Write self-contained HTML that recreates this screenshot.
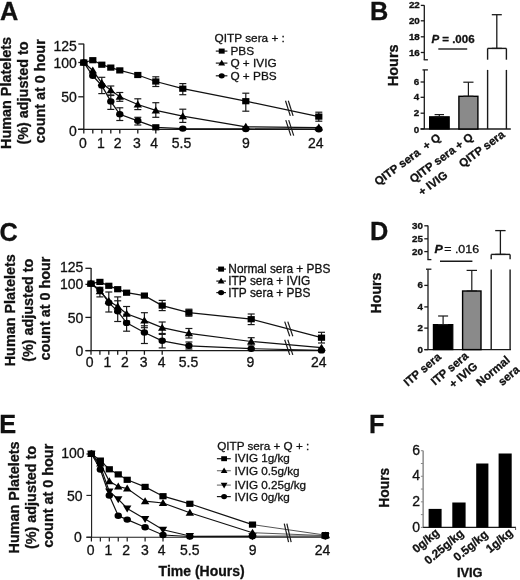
<!DOCTYPE html>
<html><head><meta charset="utf-8"><title>Figure</title>
<style>
html,body{margin:0;padding:0;background:#fff;}
body{width:520px;height:580px;overflow:hidden;}
svg{display:block;font-family:"Liberation Sans", sans-serif;filter:grayscale(1);}
text{stroke:#111;stroke-width:0.3px;}
</style></head>
<body>
<svg width="520" height="580" viewBox="0 0 520 580">
<rect width="520" height="580" fill="#fff"/>
<text x="0.00" y="19.60" font-size="25.3" font-weight="bold" text-anchor="start" fill="#111">A</text>
<text x="0.00" y="0.00" font-size="14.4" font-weight="bold" text-anchor="middle" fill="#111" transform="translate(11.30 93.00) rotate(-90)">Human Platelets</text>
<text x="0.00" y="0.00" font-size="14.4" font-weight="bold" text-anchor="middle" fill="#111" transform="translate(28.30 93.00) rotate(-90)">(%) adjusted to</text>
<text x="0.00" y="0.00" font-size="14.4" font-weight="bold" text-anchor="middle" fill="#111" transform="translate(45.00 91.20) rotate(-90)">count at 0 hour</text>
<line x1="83.80" y1="43.70" x2="83.80" y2="129.90" stroke="#1a1a1a" stroke-width="1.3"/>
<line x1="78.30" y1="44.00" x2="83.80" y2="44.00" stroke="#1a1a1a" stroke-width="1.3"/>
<text x="76.80" y="50.70" font-size="14.0" text-anchor="end" fill="#111">125</text>
<line x1="78.30" y1="62.50" x2="83.80" y2="62.50" stroke="#1a1a1a" stroke-width="1.3"/>
<text x="76.80" y="67.50" font-size="14.0" text-anchor="end" fill="#111">100</text>
<line x1="78.30" y1="96.80" x2="83.80" y2="96.80" stroke="#1a1a1a" stroke-width="1.3"/>
<text x="76.80" y="101.70" font-size="14.0" text-anchor="end" fill="#111">50</text>
<line x1="78.30" y1="129.30" x2="83.80" y2="129.30" stroke="#1a1a1a" stroke-width="1.3"/>
<text x="76.80" y="135.60" font-size="14.0" text-anchor="end" fill="#111">0</text>
<line x1="78.00" y1="129.30" x2="320.00" y2="129.30" stroke="#1a1a1a" stroke-width="1.3"/>
<line x1="83.80" y1="129.30" x2="83.80" y2="133.60" stroke="#1a1a1a" stroke-width="1.3"/>
<line x1="92.80" y1="129.30" x2="92.80" y2="133.60" stroke="#1a1a1a" stroke-width="1.3"/>
<line x1="101.80" y1="129.30" x2="101.80" y2="133.60" stroke="#1a1a1a" stroke-width="1.3"/>
<line x1="110.80" y1="129.30" x2="110.80" y2="133.60" stroke="#1a1a1a" stroke-width="1.3"/>
<line x1="119.80" y1="129.30" x2="119.80" y2="133.60" stroke="#1a1a1a" stroke-width="1.3"/>
<line x1="137.80" y1="129.30" x2="137.80" y2="133.60" stroke="#1a1a1a" stroke-width="1.3"/>
<line x1="155.80" y1="129.30" x2="155.80" y2="133.60" stroke="#1a1a1a" stroke-width="1.3"/>
<text x="82.80" y="147.50" font-size="14.0" text-anchor="middle" fill="#111">0</text>
<text x="100.80" y="147.50" font-size="14.0" text-anchor="middle" fill="#111">1</text>
<text x="117.60" y="147.50" font-size="14.0" text-anchor="middle" fill="#111">2</text>
<text x="137.00" y="147.50" font-size="14.0" text-anchor="middle" fill="#111">3</text>
<text x="154.20" y="147.50" font-size="14.0" text-anchor="middle" fill="#111">4</text>
<text x="181.50" y="147.50" font-size="14.0" text-anchor="middle" fill="#111">5.5</text>
<text x="246.00" y="147.50" font-size="14.0" text-anchor="middle" fill="#111">9</text>
<text x="315.70" y="147.50" font-size="14.0" text-anchor="middle" fill="#111">24</text>
<polyline points="83.80,62.50 92.80,60.20 101.80,64.70 110.80,67.60 119.80,70.40 137.80,75.00 155.80,81.50 182.80,88.70 245.80,101.20 318.80,116.60" fill="none" stroke="#111" stroke-width="1.25"/>
<polyline points="83.80,62.50 92.80,70.50 101.80,83.00 110.80,90.30 119.80,96.80 137.80,104.50 155.80,110.40 182.80,116.20 245.80,126.80 318.80,127.60" fill="none" stroke="#111" stroke-width="1.25"/>
<polyline points="83.80,62.50 92.80,75.80 101.80,85.60 110.80,101.40 119.80,114.30 137.80,120.80 155.80,127.30 182.80,128.60 245.80,129.00 318.80,129.20" fill="none" stroke="#111" stroke-width="1.3"/>
<line x1="155.80" y1="76.80" x2="155.80" y2="86.50" stroke="#1a1a1a" stroke-width="1.2"/>
<line x1="152.30" y1="76.80" x2="159.30" y2="76.80" stroke="#1a1a1a" stroke-width="1.2"/>
<line x1="152.30" y1="86.50" x2="159.30" y2="86.50" stroke="#1a1a1a" stroke-width="1.2"/>
<line x1="182.80" y1="83.60" x2="182.80" y2="94.70" stroke="#1a1a1a" stroke-width="1.2"/>
<line x1="179.30" y1="83.60" x2="186.30" y2="83.60" stroke="#1a1a1a" stroke-width="1.2"/>
<line x1="179.30" y1="94.70" x2="186.30" y2="94.70" stroke="#1a1a1a" stroke-width="1.2"/>
<line x1="245.80" y1="93.20" x2="245.80" y2="111.20" stroke="#1a1a1a" stroke-width="1.2"/>
<line x1="242.30" y1="93.20" x2="249.30" y2="93.20" stroke="#1a1a1a" stroke-width="1.2"/>
<line x1="242.30" y1="111.20" x2="249.30" y2="111.20" stroke="#1a1a1a" stroke-width="1.2"/>
<line x1="318.80" y1="112.20" x2="318.80" y2="121.20" stroke="#1a1a1a" stroke-width="1.2"/>
<line x1="315.30" y1="112.20" x2="322.30" y2="112.20" stroke="#1a1a1a" stroke-width="1.2"/>
<line x1="315.30" y1="121.20" x2="322.30" y2="121.20" stroke="#1a1a1a" stroke-width="1.2"/>
<line x1="110.80" y1="86.00" x2="110.80" y2="95.50" stroke="#1a1a1a" stroke-width="1.2"/>
<line x1="107.30" y1="86.00" x2="114.30" y2="86.00" stroke="#1a1a1a" stroke-width="1.2"/>
<line x1="107.30" y1="95.50" x2="114.30" y2="95.50" stroke="#1a1a1a" stroke-width="1.2"/>
<line x1="119.80" y1="92.50" x2="119.80" y2="101.30" stroke="#1a1a1a" stroke-width="1.2"/>
<line x1="116.30" y1="92.50" x2="123.30" y2="92.50" stroke="#1a1a1a" stroke-width="1.2"/>
<line x1="116.30" y1="101.30" x2="123.30" y2="101.30" stroke="#1a1a1a" stroke-width="1.2"/>
<line x1="137.80" y1="98.80" x2="137.80" y2="109.60" stroke="#1a1a1a" stroke-width="1.2"/>
<line x1="134.30" y1="98.80" x2="141.30" y2="98.80" stroke="#1a1a1a" stroke-width="1.2"/>
<line x1="134.30" y1="109.60" x2="141.30" y2="109.60" stroke="#1a1a1a" stroke-width="1.2"/>
<line x1="155.80" y1="102.70" x2="155.80" y2="117.30" stroke="#1a1a1a" stroke-width="1.2"/>
<line x1="152.30" y1="102.70" x2="159.30" y2="102.70" stroke="#1a1a1a" stroke-width="1.2"/>
<line x1="152.30" y1="117.30" x2="159.30" y2="117.30" stroke="#1a1a1a" stroke-width="1.2"/>
<line x1="182.80" y1="109.20" x2="182.80" y2="122.40" stroke="#1a1a1a" stroke-width="1.2"/>
<line x1="179.30" y1="109.20" x2="186.30" y2="109.20" stroke="#1a1a1a" stroke-width="1.2"/>
<line x1="179.30" y1="122.40" x2="186.30" y2="122.40" stroke="#1a1a1a" stroke-width="1.2"/>
<line x1="101.80" y1="77.30" x2="101.80" y2="93.60" stroke="#1a1a1a" stroke-width="1.2"/>
<line x1="98.30" y1="77.30" x2="105.30" y2="77.30" stroke="#1a1a1a" stroke-width="1.2"/>
<line x1="98.30" y1="93.60" x2="105.30" y2="93.60" stroke="#1a1a1a" stroke-width="1.2"/>
<line x1="110.80" y1="95.00" x2="110.80" y2="109.40" stroke="#1a1a1a" stroke-width="1.2"/>
<line x1="107.30" y1="95.00" x2="114.30" y2="95.00" stroke="#1a1a1a" stroke-width="1.2"/>
<line x1="107.30" y1="109.40" x2="114.30" y2="109.40" stroke="#1a1a1a" stroke-width="1.2"/>
<line x1="119.80" y1="107.80" x2="119.80" y2="120.50" stroke="#1a1a1a" stroke-width="1.2"/>
<line x1="116.30" y1="107.80" x2="123.30" y2="107.80" stroke="#1a1a1a" stroke-width="1.2"/>
<line x1="116.30" y1="120.50" x2="123.30" y2="120.50" stroke="#1a1a1a" stroke-width="1.2"/>
<line x1="137.80" y1="117.30" x2="137.80" y2="125.00" stroke="#1a1a1a" stroke-width="1.2"/>
<line x1="134.30" y1="117.30" x2="141.30" y2="117.30" stroke="#1a1a1a" stroke-width="1.2"/>
<line x1="134.30" y1="125.00" x2="141.30" y2="125.00" stroke="#1a1a1a" stroke-width="1.2"/>
<polygon points="79.60,65.50 88.00,65.50 83.80,58.50" fill="#000"/>
<polygon points="88.60,73.50 97.00,73.50 92.80,66.50" fill="#000"/>
<polygon points="97.60,86.00 106.00,86.00 101.80,79.00" fill="#000"/>
<polygon points="106.60,93.30 115.00,93.30 110.80,86.30" fill="#000"/>
<polygon points="115.60,99.80 124.00,99.80 119.80,92.80" fill="#000"/>
<polygon points="133.60,107.50 142.00,107.50 137.80,100.50" fill="#000"/>
<polygon points="151.60,113.40 160.00,113.40 155.80,106.40" fill="#000"/>
<polygon points="178.60,119.20 187.00,119.20 182.80,112.20" fill="#000"/>
<polygon points="241.60,129.80 250.00,129.80 245.80,122.80" fill="#000"/>
<polygon points="314.60,130.60 323.00,130.60 318.80,123.60" fill="#000"/>
<ellipse cx="83.80" cy="62.50" rx="3.70" ry="3.20" fill="#000"/>
<ellipse cx="92.80" cy="75.80" rx="3.70" ry="3.20" fill="#000"/>
<ellipse cx="101.80" cy="85.60" rx="3.70" ry="3.20" fill="#000"/>
<ellipse cx="110.80" cy="101.40" rx="3.70" ry="3.20" fill="#000"/>
<ellipse cx="119.80" cy="114.30" rx="3.70" ry="3.20" fill="#000"/>
<ellipse cx="137.80" cy="120.80" rx="3.70" ry="3.20" fill="#000"/>
<rect x="152.20" y="124.20" width="7.20" height="6.20" fill="#000"/>
<ellipse cx="182.80" cy="128.60" rx="3.70" ry="3.20" fill="#000"/>
<ellipse cx="245.80" cy="129.00" rx="3.70" ry="3.20" fill="#000"/>
<ellipse cx="318.80" cy="129.20" rx="3.70" ry="3.20" fill="#000"/>
<rect x="80.20" y="59.40" width="7.20" height="6.20" fill="#000"/>
<rect x="89.20" y="57.10" width="7.20" height="6.20" fill="#000"/>
<rect x="98.20" y="61.60" width="7.20" height="6.20" fill="#000"/>
<rect x="107.20" y="64.50" width="7.20" height="6.20" fill="#000"/>
<rect x="116.20" y="67.30" width="7.20" height="6.20" fill="#000"/>
<rect x="134.20" y="71.90" width="7.20" height="6.20" fill="#000"/>
<rect x="152.20" y="78.40" width="7.20" height="6.20" fill="#000"/>
<rect x="179.20" y="85.60" width="7.20" height="6.20" fill="#000"/>
<rect x="242.20" y="98.10" width="7.20" height="6.20" fill="#000"/>
<rect x="315.20" y="113.50" width="7.20" height="6.20" fill="#000"/>
<line x1="285.50" y1="100.80" x2="290.30" y2="115.90" stroke="#1a1a1a" stroke-width="1.2"/>
<line x1="288.30" y1="100.80" x2="293.10" y2="115.90" stroke="#1a1a1a" stroke-width="1.2"/>
<line x1="285.80" y1="120.10" x2="290.80" y2="135.60" stroke="#1a1a1a" stroke-width="1.2"/>
<line x1="288.70" y1="120.10" x2="293.70" y2="135.60" stroke="#1a1a1a" stroke-width="1.2"/>
<text x="214.60" y="41.90" font-size="11.8" text-anchor="start" fill="#111">QITP sera + :</text>
<line x1="215.80" y1="51.10" x2="227.40" y2="51.10" stroke="#1a1a1a" stroke-width="1.2"/>
<rect x="218.75" y="48.56" width="5.90" height="5.08" fill="#000"/>
<text x="230.40" y="55.00" font-size="11.8" text-anchor="start" fill="#111">PBS</text>
<line x1="215.80" y1="63.10" x2="227.40" y2="63.10" stroke="#1a1a1a" stroke-width="1.2"/>
<polygon points="218.26,65.47 225.14,65.47 221.70,59.73" fill="#000"/>
<text x="230.40" y="67.00" font-size="11.8" text-anchor="start" fill="#111">Q + IVIG</text>
<line x1="215.80" y1="75.80" x2="227.40" y2="75.80" stroke="#1a1a1a" stroke-width="1.2"/>
<ellipse cx="221.70" cy="75.80" rx="3.03" ry="2.62" fill="#000"/>
<text x="230.40" y="79.70" font-size="11.8" text-anchor="start" fill="#111">Q + PBS</text>
<text x="370.00" y="19.60" font-size="25.3" font-weight="bold" text-anchor="start" fill="#111">B</text>
<text x="0.00" y="0.00" font-size="14.5" font-weight="bold" text-anchor="middle" fill="#111" transform="translate(398.00 65.30) rotate(-90)">Hours</text>
<line x1="424.30" y1="5.20" x2="424.30" y2="59.80" stroke="#1a1a1a" stroke-width="1.3"/>
<line x1="423.70" y1="59.80" x2="427.90" y2="59.80" stroke="#1a1a1a" stroke-width="1.3"/>
<line x1="420.80" y1="5.40" x2="424.30" y2="5.40" stroke="#1a1a1a" stroke-width="1.3"/>
<text x="0.00" y="0.00" font-size="8.6" font-weight="bold" text-anchor="end" fill="#111" transform="translate(419.80 8.40) scale(1.14 1)">22</text>
<line x1="420.80" y1="20.80" x2="424.30" y2="20.80" stroke="#1a1a1a" stroke-width="1.3"/>
<text x="0.00" y="0.00" font-size="8.6" font-weight="bold" text-anchor="end" fill="#111" transform="translate(419.80 23.80) scale(1.14 1)">20</text>
<line x1="420.80" y1="36.80" x2="424.30" y2="36.80" stroke="#1a1a1a" stroke-width="1.3"/>
<text x="0.00" y="0.00" font-size="8.6" font-weight="bold" text-anchor="end" fill="#111" transform="translate(419.80 39.80) scale(1.14 1)">18</text>
<line x1="420.80" y1="52.50" x2="424.30" y2="52.50" stroke="#1a1a1a" stroke-width="1.3"/>
<text x="0.00" y="0.00" font-size="8.6" font-weight="bold" text-anchor="end" fill="#111" transform="translate(419.80 55.50) scale(1.14 1)">16</text>
<line x1="424.30" y1="69.90" x2="424.30" y2="129.00" stroke="#1a1a1a" stroke-width="1.3"/>
<line x1="422.50" y1="69.90" x2="427.90" y2="69.90" stroke="#1a1a1a" stroke-width="1.3"/>
<line x1="420.60" y1="82.00" x2="424.30" y2="82.00" stroke="#1a1a1a" stroke-width="1.3"/>
<text x="0.00" y="0.00" font-size="8.6" font-weight="bold" text-anchor="end" fill="#111" transform="translate(419.20 85.00) scale(1.14 1)">6</text>
<line x1="420.60" y1="97.30" x2="424.30" y2="97.30" stroke="#1a1a1a" stroke-width="1.3"/>
<text x="0.00" y="0.00" font-size="8.6" font-weight="bold" text-anchor="end" fill="#111" transform="translate(419.20 100.30) scale(1.14 1)">4</text>
<line x1="420.60" y1="113.20" x2="424.30" y2="113.20" stroke="#1a1a1a" stroke-width="1.3"/>
<text x="0.00" y="0.00" font-size="8.6" font-weight="bold" text-anchor="end" fill="#111" transform="translate(419.20 116.20) scale(1.14 1)">2</text>
<line x1="420.60" y1="128.90" x2="424.30" y2="128.90" stroke="#1a1a1a" stroke-width="1.3"/>
<text x="0.00" y="0.00" font-size="8.6" font-weight="bold" text-anchor="end" fill="#111" transform="translate(419.20 132.50) scale(1.14 1)">0</text>
<line x1="420.60" y1="129.00" x2="510.80" y2="129.00" stroke="#1a1a1a" stroke-width="1.3"/>
<rect x="429.60" y="116.80" width="19.60" height="12.20" fill="#000" stroke="#000" stroke-width="1.2"/>
<line x1="439.30" y1="114.60" x2="439.30" y2="116.80" stroke="#1a1a1a" stroke-width="1.2"/>
<line x1="434.60" y1="114.60" x2="444.00" y2="114.60" stroke="#1a1a1a" stroke-width="1.2"/>
<line x1="434.60" y1="116.80" x2="444.00" y2="116.80" stroke="#1a1a1a" stroke-width="1.2"/>
<rect x="458.90" y="96.30" width="19.00" height="32.70" fill="#8a8a8a" stroke="#000" stroke-width="1.4"/>
<line x1="468.40" y1="82.20" x2="468.40" y2="96.30" stroke="#1a1a1a" stroke-width="1.2"/>
<line x1="463.30" y1="82.20" x2="473.50" y2="82.20" stroke="#1a1a1a" stroke-width="1.2"/>
<line x1="463.30" y1="96.30" x2="473.50" y2="96.30" stroke="#1a1a1a" stroke-width="1.2"/>
<line x1="487.60" y1="69.90" x2="487.60" y2="129.00" stroke="#1a1a1a" stroke-width="1.4"/>
<line x1="506.40" y1="69.90" x2="506.40" y2="129.00" stroke="#1a1a1a" stroke-width="1.4"/>
<line x1="487.60" y1="48.40" x2="487.60" y2="59.70" stroke="#1a1a1a" stroke-width="1.4"/>
<line x1="506.40" y1="48.40" x2="506.40" y2="59.70" stroke="#1a1a1a" stroke-width="1.4"/>
<line x1="487.60" y1="48.40" x2="506.40" y2="48.40" stroke="#1a1a1a" stroke-width="1.4"/>
<line x1="496.80" y1="14.70" x2="496.80" y2="48.40" stroke="#1a1a1a" stroke-width="1.3"/>
<line x1="491.80" y1="14.70" x2="501.80" y2="14.70" stroke="#1a1a1a" stroke-width="1.3"/>
<line x1="491.80" y1="48.40" x2="501.80" y2="48.40" stroke="#1a1a1a" stroke-width="1.3"/>
<text x="431.40" y="42.90" font-size="11.5" font-weight="bold" text-anchor="start" fill="#111"><tspan font-style="italic">P</tspan> = .006</text>
<line x1="438.30" y1="49.00" x2="467.20" y2="49.00" stroke="#1a1a1a" stroke-width="1.4"/>
<text x="0.00" y="0.00" font-size="11.5" font-weight="bold" text-anchor="start" fill="#111" transform="translate(378.10 186.00) rotate(-36.5)">QITP sera&#160; + Q</text>
<text x="0.00" y="0.00" font-size="11.5" font-weight="bold" text-anchor="start" fill="#111" transform="translate(413.30 183.60) rotate(-36.5)">QITP sera + Q</text>
<text x="0.00" y="0.00" font-size="11.5" font-weight="bold" text-anchor="start" fill="#111" transform="translate(421.90 196.20) rotate(-36.5)">+ IVIG</text>
<text x="0.00" y="0.00" font-size="11.5" font-weight="bold" text-anchor="start" fill="#111" transform="translate(462.60 167.90) rotate(-36.5)">QITP sera</text>
<text x="-0.40" y="240.80" font-size="25.3" font-weight="bold" text-anchor="start" fill="#111">C</text>
<text x="0.00" y="0.00" font-size="14.4" font-weight="bold" text-anchor="middle" fill="#111" transform="translate(15.00 310.30) rotate(-90)">Human Platelets</text>
<text x="0.00" y="0.00" font-size="14.4" font-weight="bold" text-anchor="middle" fill="#111" transform="translate(32.90 310.30) rotate(-90)">(%) adjusted to</text>
<text x="0.00" y="0.00" font-size="14.4" font-weight="bold" text-anchor="middle" fill="#111" transform="translate(49.60 308.50) rotate(-90)">count at 0 hour</text>
<line x1="91.10" y1="268.00" x2="91.10" y2="351.00" stroke="#1a1a1a" stroke-width="1.3"/>
<line x1="85.40" y1="268.30" x2="91.10" y2="268.30" stroke="#1a1a1a" stroke-width="1.3"/>
<text x="83.30" y="271.70" font-size="14.0" text-anchor="end" fill="#111">125</text>
<line x1="85.40" y1="284.40" x2="91.10" y2="284.40" stroke="#1a1a1a" stroke-width="1.3"/>
<text x="83.30" y="289.00" font-size="14.0" text-anchor="end" fill="#111">100</text>
<line x1="85.40" y1="317.40" x2="91.10" y2="317.40" stroke="#1a1a1a" stroke-width="1.3"/>
<text x="83.30" y="323.00" font-size="14.0" text-anchor="end" fill="#111">50</text>
<line x1="85.40" y1="350.60" x2="91.10" y2="350.60" stroke="#1a1a1a" stroke-width="1.3"/>
<text x="83.30" y="356.20" font-size="14.0" text-anchor="end" fill="#111">0</text>
<line x1="85.60" y1="350.60" x2="325.00" y2="350.60" stroke="#1a1a1a" stroke-width="1.3"/>
<line x1="91.00" y1="350.60" x2="91.00" y2="354.80" stroke="#1a1a1a" stroke-width="1.3"/>
<line x1="99.90" y1="350.60" x2="99.90" y2="354.80" stroke="#1a1a1a" stroke-width="1.3"/>
<line x1="108.80" y1="350.60" x2="108.80" y2="354.80" stroke="#1a1a1a" stroke-width="1.3"/>
<line x1="117.70" y1="350.60" x2="117.70" y2="354.80" stroke="#1a1a1a" stroke-width="1.3"/>
<line x1="126.60" y1="350.60" x2="126.60" y2="354.80" stroke="#1a1a1a" stroke-width="1.3"/>
<line x1="144.40" y1="350.60" x2="144.40" y2="354.80" stroke="#1a1a1a" stroke-width="1.3"/>
<line x1="162.20" y1="350.60" x2="162.20" y2="354.80" stroke="#1a1a1a" stroke-width="1.3"/>
<text x="89.60" y="366.60" font-size="14.0" text-anchor="middle" fill="#111">0</text>
<text x="107.30" y="366.60" font-size="14.0" text-anchor="middle" fill="#111">1</text>
<text x="125.00" y="366.60" font-size="14.0" text-anchor="middle" fill="#111">2</text>
<text x="143.60" y="366.60" font-size="14.0" text-anchor="middle" fill="#111">3</text>
<text x="161.60" y="366.60" font-size="14.0" text-anchor="middle" fill="#111">4</text>
<text x="188.50" y="366.60" font-size="14.0" text-anchor="middle" fill="#111">5.5</text>
<text x="250.40" y="366.60" font-size="14.0" text-anchor="middle" fill="#111">9</text>
<text x="318.80" y="366.60" font-size="14.0" text-anchor="middle" fill="#111">24</text>
<polyline points="91.00,283.60 99.90,281.90 108.80,285.80 117.70,289.20 126.60,292.70 144.40,295.60 162.20,305.60 188.90,312.70 251.20,319.20 321.50,337.70" fill="none" stroke="#111" stroke-width="1.25"/>
<polyline points="91.00,283.60 99.90,291.20 108.80,301.00 117.70,306.50 126.60,313.80 144.40,320.40 162.20,327.70 188.90,333.30 251.20,341.50 321.50,347.70" fill="none" stroke="#111" stroke-width="1.25"/>
<polyline points="91.00,283.60 99.90,290.00 108.80,302.70 117.70,311.30 126.60,322.90 144.40,332.50 162.20,340.80 188.90,345.80 251.20,348.70 321.50,350.40" fill="none" stroke="#111" stroke-width="1.2"/>
<line x1="162.20" y1="300.40" x2="162.20" y2="310.60" stroke="#1a1a1a" stroke-width="1.2"/>
<line x1="158.70" y1="300.40" x2="165.70" y2="300.40" stroke="#1a1a1a" stroke-width="1.2"/>
<line x1="158.70" y1="310.60" x2="165.70" y2="310.60" stroke="#1a1a1a" stroke-width="1.2"/>
<line x1="188.90" y1="309.20" x2="188.90" y2="316.20" stroke="#1a1a1a" stroke-width="1.2"/>
<line x1="185.40" y1="309.20" x2="192.40" y2="309.20" stroke="#1a1a1a" stroke-width="1.2"/>
<line x1="185.40" y1="316.20" x2="192.40" y2="316.20" stroke="#1a1a1a" stroke-width="1.2"/>
<line x1="251.20" y1="314.00" x2="251.20" y2="324.60" stroke="#1a1a1a" stroke-width="1.2"/>
<line x1="247.70" y1="314.00" x2="254.70" y2="314.00" stroke="#1a1a1a" stroke-width="1.2"/>
<line x1="247.70" y1="324.60" x2="254.70" y2="324.60" stroke="#1a1a1a" stroke-width="1.2"/>
<line x1="321.50" y1="332.30" x2="321.50" y2="343.00" stroke="#1a1a1a" stroke-width="1.2"/>
<line x1="318.00" y1="332.30" x2="325.00" y2="332.30" stroke="#1a1a1a" stroke-width="1.2"/>
<line x1="318.00" y1="343.00" x2="325.00" y2="343.00" stroke="#1a1a1a" stroke-width="1.2"/>
<line x1="99.90" y1="287.30" x2="99.90" y2="296.90" stroke="#1a1a1a" stroke-width="1.2"/>
<line x1="96.40" y1="287.30" x2="103.40" y2="287.30" stroke="#1a1a1a" stroke-width="1.2"/>
<line x1="96.40" y1="296.90" x2="103.40" y2="296.90" stroke="#1a1a1a" stroke-width="1.2"/>
<line x1="117.70" y1="296.90" x2="117.70" y2="312.00" stroke="#1a1a1a" stroke-width="1.2"/>
<line x1="114.20" y1="296.90" x2="121.20" y2="296.90" stroke="#1a1a1a" stroke-width="1.2"/>
<line x1="114.20" y1="312.00" x2="121.20" y2="312.00" stroke="#1a1a1a" stroke-width="1.2"/>
<line x1="126.60" y1="306.50" x2="126.60" y2="321.00" stroke="#1a1a1a" stroke-width="1.2"/>
<line x1="123.10" y1="306.50" x2="130.10" y2="306.50" stroke="#1a1a1a" stroke-width="1.2"/>
<line x1="123.10" y1="321.00" x2="130.10" y2="321.00" stroke="#1a1a1a" stroke-width="1.2"/>
<line x1="144.40" y1="312.70" x2="144.40" y2="327.70" stroke="#1a1a1a" stroke-width="1.2"/>
<line x1="140.90" y1="312.70" x2="147.90" y2="312.70" stroke="#1a1a1a" stroke-width="1.2"/>
<line x1="140.90" y1="327.70" x2="147.90" y2="327.70" stroke="#1a1a1a" stroke-width="1.2"/>
<line x1="162.20" y1="322.00" x2="162.20" y2="333.50" stroke="#1a1a1a" stroke-width="1.2"/>
<line x1="158.70" y1="322.00" x2="165.70" y2="322.00" stroke="#1a1a1a" stroke-width="1.2"/>
<line x1="158.70" y1="333.50" x2="165.70" y2="333.50" stroke="#1a1a1a" stroke-width="1.2"/>
<line x1="188.90" y1="328.50" x2="188.90" y2="338.00" stroke="#1a1a1a" stroke-width="1.2"/>
<line x1="185.40" y1="328.50" x2="192.40" y2="328.50" stroke="#1a1a1a" stroke-width="1.2"/>
<line x1="185.40" y1="338.00" x2="192.40" y2="338.00" stroke="#1a1a1a" stroke-width="1.2"/>
<line x1="251.20" y1="337.70" x2="251.20" y2="345.00" stroke="#1a1a1a" stroke-width="1.2"/>
<line x1="247.70" y1="337.70" x2="254.70" y2="337.70" stroke="#1a1a1a" stroke-width="1.2"/>
<line x1="247.70" y1="345.00" x2="254.70" y2="345.00" stroke="#1a1a1a" stroke-width="1.2"/>
<line x1="108.80" y1="292.00" x2="108.80" y2="312.00" stroke="#1a1a1a" stroke-width="1.2"/>
<line x1="105.30" y1="292.00" x2="112.30" y2="292.00" stroke="#1a1a1a" stroke-width="1.2"/>
<line x1="105.30" y1="312.00" x2="112.30" y2="312.00" stroke="#1a1a1a" stroke-width="1.2"/>
<line x1="117.70" y1="300.80" x2="117.70" y2="321.50" stroke="#1a1a1a" stroke-width="1.2"/>
<line x1="114.20" y1="300.80" x2="121.20" y2="300.80" stroke="#1a1a1a" stroke-width="1.2"/>
<line x1="114.20" y1="321.50" x2="121.20" y2="321.50" stroke="#1a1a1a" stroke-width="1.2"/>
<line x1="126.60" y1="314.20" x2="126.60" y2="331.20" stroke="#1a1a1a" stroke-width="1.2"/>
<line x1="123.10" y1="314.20" x2="130.10" y2="314.20" stroke="#1a1a1a" stroke-width="1.2"/>
<line x1="123.10" y1="331.20" x2="130.10" y2="331.20" stroke="#1a1a1a" stroke-width="1.2"/>
<line x1="144.40" y1="325.80" x2="144.40" y2="343.50" stroke="#1a1a1a" stroke-width="1.2"/>
<line x1="140.90" y1="325.80" x2="147.90" y2="325.80" stroke="#1a1a1a" stroke-width="1.2"/>
<line x1="140.90" y1="343.50" x2="147.90" y2="343.50" stroke="#1a1a1a" stroke-width="1.2"/>
<line x1="162.20" y1="334.40" x2="162.20" y2="347.90" stroke="#1a1a1a" stroke-width="1.2"/>
<line x1="158.70" y1="334.40" x2="165.70" y2="334.40" stroke="#1a1a1a" stroke-width="1.2"/>
<line x1="158.70" y1="347.90" x2="165.70" y2="347.90" stroke="#1a1a1a" stroke-width="1.2"/>
<line x1="188.90" y1="342.00" x2="188.90" y2="349.00" stroke="#1a1a1a" stroke-width="1.2"/>
<line x1="185.40" y1="342.00" x2="192.40" y2="342.00" stroke="#1a1a1a" stroke-width="1.2"/>
<line x1="185.40" y1="349.00" x2="192.40" y2="349.00" stroke="#1a1a1a" stroke-width="1.2"/>
<polygon points="86.80,286.60 95.20,286.60 91.00,279.60" fill="#000"/>
<polygon points="95.70,294.20 104.10,294.20 99.90,287.20" fill="#000"/>
<polygon points="104.60,304.00 113.00,304.00 108.80,297.00" fill="#000"/>
<polygon points="113.50,309.50 121.90,309.50 117.70,302.50" fill="#000"/>
<polygon points="122.40,316.80 130.80,316.80 126.60,309.80" fill="#000"/>
<polygon points="140.20,323.40 148.60,323.40 144.40,316.40" fill="#000"/>
<polygon points="158.00,330.70 166.40,330.70 162.20,323.70" fill="#000"/>
<polygon points="184.70,336.30 193.10,336.30 188.90,329.30" fill="#000"/>
<polygon points="247.00,344.50 255.40,344.50 251.20,337.50" fill="#000"/>
<polygon points="317.30,350.70 325.70,350.70 321.50,343.70" fill="#000"/>
<ellipse cx="91.00" cy="283.60" rx="3.70" ry="3.20" fill="#000"/>
<ellipse cx="99.90" cy="290.00" rx="3.70" ry="3.20" fill="#000"/>
<ellipse cx="108.80" cy="302.70" rx="3.70" ry="3.20" fill="#000"/>
<ellipse cx="117.70" cy="311.30" rx="3.70" ry="3.20" fill="#000"/>
<ellipse cx="126.60" cy="322.90" rx="3.70" ry="3.20" fill="#000"/>
<ellipse cx="144.40" cy="332.50" rx="3.70" ry="3.20" fill="#000"/>
<ellipse cx="162.20" cy="340.80" rx="3.70" ry="3.20" fill="#000"/>
<ellipse cx="188.90" cy="345.80" rx="3.70" ry="3.20" fill="#000"/>
<ellipse cx="251.20" cy="348.70" rx="3.70" ry="3.20" fill="#000"/>
<ellipse cx="321.50" cy="350.40" rx="3.70" ry="3.20" fill="#000"/>
<rect x="87.40" y="280.50" width="7.20" height="6.20" fill="#000"/>
<rect x="96.30" y="278.80" width="7.20" height="6.20" fill="#000"/>
<rect x="105.20" y="282.70" width="7.20" height="6.20" fill="#000"/>
<rect x="114.10" y="286.10" width="7.20" height="6.20" fill="#000"/>
<rect x="123.00" y="289.60" width="7.20" height="6.20" fill="#000"/>
<rect x="140.80" y="292.50" width="7.20" height="6.20" fill="#000"/>
<rect x="158.60" y="302.50" width="7.20" height="6.20" fill="#000"/>
<rect x="185.30" y="309.60" width="7.20" height="6.20" fill="#000"/>
<rect x="247.60" y="316.10" width="7.20" height="6.20" fill="#000"/>
<rect x="317.90" y="334.60" width="7.20" height="6.20" fill="#000"/>
<line x1="284.70" y1="321.60" x2="289.70" y2="336.30" stroke="#1a1a1a" stroke-width="1.2"/>
<line x1="287.80" y1="321.60" x2="292.80" y2="336.30" stroke="#1a1a1a" stroke-width="1.2"/>
<line x1="284.70" y1="339.80" x2="289.70" y2="354.90" stroke="#1a1a1a" stroke-width="1.2"/>
<line x1="287.80" y1="339.80" x2="292.80" y2="354.90" stroke="#1a1a1a" stroke-width="1.2"/>
<line x1="216.30" y1="269.10" x2="226.00" y2="269.10" stroke="#1a1a1a" stroke-width="1.2"/>
<rect x="218.15" y="266.56" width="5.90" height="5.08" fill="#000"/>
<text x="228.30" y="273.00" font-size="11.9" text-anchor="start" fill="#111">Normal sera + PBS</text>
<line x1="216.30" y1="281.10" x2="226.00" y2="281.10" stroke="#1a1a1a" stroke-width="1.2"/>
<polygon points="217.66,283.47 224.54,283.47 221.10,277.73" fill="#000"/>
<text x="228.30" y="285.00" font-size="11.9" text-anchor="start" fill="#111">ITP sera + IVIG</text>
<line x1="216.30" y1="292.60" x2="226.00" y2="292.60" stroke="#1a1a1a" stroke-width="1.2"/>
<ellipse cx="221.10" cy="292.60" rx="3.03" ry="2.62" fill="#000"/>
<text x="228.30" y="296.50" font-size="11.9" text-anchor="start" fill="#111">ITP sera + PBS</text>
<text x="370.00" y="240.40" font-size="25.3" font-weight="bold" text-anchor="start" fill="#111">D</text>
<text x="0.00" y="0.00" font-size="14.2" font-weight="bold" text-anchor="middle" fill="#111" transform="translate(380.50 293.00) rotate(-90)">Hours</text>
<line x1="428.00" y1="225.60" x2="428.00" y2="259.60" stroke="#1a1a1a" stroke-width="1.3"/>
<line x1="427.40" y1="259.60" x2="431.40" y2="259.60" stroke="#1a1a1a" stroke-width="1.3"/>
<line x1="424.30" y1="225.80" x2="428.00" y2="225.80" stroke="#1a1a1a" stroke-width="1.3"/>
<text x="0.00" y="0.00" font-size="8.6" font-weight="bold" text-anchor="end" fill="#111" transform="translate(423.00 228.80) scale(1.14 1)">30</text>
<line x1="424.30" y1="238.80" x2="428.00" y2="238.80" stroke="#1a1a1a" stroke-width="1.3"/>
<text x="0.00" y="0.00" font-size="8.6" font-weight="bold" text-anchor="end" fill="#111" transform="translate(423.00 241.80) scale(1.14 1)">25</text>
<line x1="424.30" y1="251.60" x2="428.00" y2="251.60" stroke="#1a1a1a" stroke-width="1.3"/>
<text x="0.00" y="0.00" font-size="8.6" font-weight="bold" text-anchor="end" fill="#111" transform="translate(423.00 254.60) scale(1.14 1)">20</text>
<line x1="428.00" y1="269.20" x2="428.00" y2="349.60" stroke="#1a1a1a" stroke-width="1.3"/>
<line x1="426.00" y1="269.20" x2="431.40" y2="269.20" stroke="#1a1a1a" stroke-width="1.3"/>
<line x1="424.30" y1="285.40" x2="428.00" y2="285.40" stroke="#1a1a1a" stroke-width="1.3"/>
<text x="0.00" y="0.00" font-size="8.6" font-weight="bold" text-anchor="end" fill="#111" transform="translate(423.00 288.40) scale(1.14 1)">6</text>
<line x1="424.30" y1="306.90" x2="428.00" y2="306.90" stroke="#1a1a1a" stroke-width="1.3"/>
<text x="0.00" y="0.00" font-size="8.6" font-weight="bold" text-anchor="end" fill="#111" transform="translate(423.00 309.90) scale(1.14 1)">4</text>
<line x1="424.30" y1="328.10" x2="428.00" y2="328.10" stroke="#1a1a1a" stroke-width="1.3"/>
<text x="0.00" y="0.00" font-size="8.6" font-weight="bold" text-anchor="end" fill="#111" transform="translate(423.00 331.10) scale(1.14 1)">2</text>
<line x1="424.30" y1="349.60" x2="428.00" y2="349.60" stroke="#1a1a1a" stroke-width="1.3"/>
<text x="0.00" y="0.00" font-size="8.6" font-weight="bold" text-anchor="end" fill="#111" transform="translate(423.00 353.20) scale(1.14 1)">0</text>
<line x1="424.50" y1="349.60" x2="511.00" y2="349.60" stroke="#1a1a1a" stroke-width="1.3"/>
<rect x="433.40" y="324.60" width="19.40" height="25.00" fill="#000" stroke="#000" stroke-width="1.2"/>
<line x1="443.10" y1="316.00" x2="443.10" y2="324.60" stroke="#1a1a1a" stroke-width="1.2"/>
<line x1="438.10" y1="316.00" x2="448.10" y2="316.00" stroke="#1a1a1a" stroke-width="1.2"/>
<line x1="438.10" y1="324.60" x2="448.10" y2="324.60" stroke="#1a1a1a" stroke-width="1.2"/>
<rect x="462.60" y="291.00" width="18.40" height="58.60" fill="#8a8a8a" stroke="#000" stroke-width="1.4"/>
<line x1="471.80" y1="270.40" x2="471.80" y2="291.00" stroke="#1a1a1a" stroke-width="1.2"/>
<line x1="466.60" y1="270.40" x2="477.00" y2="270.40" stroke="#1a1a1a" stroke-width="1.2"/>
<line x1="466.60" y1="291.00" x2="477.00" y2="291.00" stroke="#1a1a1a" stroke-width="1.2"/>
<line x1="491.20" y1="269.50" x2="491.20" y2="349.60" stroke="#1a1a1a" stroke-width="1.4"/>
<line x1="510.10" y1="269.50" x2="510.10" y2="349.60" stroke="#1a1a1a" stroke-width="1.4"/>
<line x1="491.20" y1="254.40" x2="491.20" y2="259.20" stroke="#1a1a1a" stroke-width="1.4"/>
<line x1="510.10" y1="254.40" x2="510.10" y2="259.20" stroke="#1a1a1a" stroke-width="1.4"/>
<line x1="491.20" y1="254.40" x2="510.10" y2="254.40" stroke="#1a1a1a" stroke-width="1.4"/>
<line x1="500.40" y1="230.60" x2="500.40" y2="254.40" stroke="#1a1a1a" stroke-width="1.3"/>
<line x1="495.20" y1="230.60" x2="505.60" y2="230.60" stroke="#1a1a1a" stroke-width="1.3"/>
<line x1="495.20" y1="254.40" x2="505.60" y2="254.40" stroke="#1a1a1a" stroke-width="1.3"/>
<text x="0.00" y="0.00" font-size="11.0" text-anchor="start" fill="#111" transform="translate(434.60 253.40) scale(1.13 1)"><tspan font-weight="bold" font-style="italic">P</tspan><tspan dx="1.2">= .016</tspan></text>
<line x1="440.00" y1="261.20" x2="472.40" y2="261.20" stroke="#1a1a1a" stroke-width="1.4"/>
<text x="0.00" y="0.00" font-size="11.5" font-weight="bold" text-anchor="start" fill="#111" transform="translate(407.70 386.80) rotate(-40)">ITP sera</text>
<text x="0.00" y="0.00" font-size="11.5" font-weight="bold" text-anchor="start" fill="#111" transform="translate(435.00 385.80) rotate(-40)">ITP sera</text>
<text x="0.00" y="0.00" font-size="11.5" font-weight="bold" text-anchor="start" fill="#111" transform="translate(453.20 388.70) rotate(-40)">+ IVIG</text>
<text x="0.00" y="0.00" font-size="11.5" font-weight="bold" text-anchor="start" fill="#111" transform="translate(480.30 386.70) rotate(-40)">Normal</text>
<text x="0.00" y="0.00" font-size="11.5" font-weight="bold" text-anchor="start" fill="#111" transform="translate(502.20 386.20) rotate(-40)">sera</text>
<text x="-0.80" y="432.90" font-size="25.3" font-weight="bold" text-anchor="start" fill="#111">E</text>
<text x="0.00" y="0.00" font-size="14.4" font-weight="bold" text-anchor="middle" fill="#111" transform="translate(19.00 497.50) rotate(-90)">Human Platelets</text>
<text x="0.00" y="0.00" font-size="14.4" font-weight="bold" text-anchor="middle" fill="#111" transform="translate(35.60 497.50) rotate(-90)">(%) adjusted to</text>
<text x="0.00" y="0.00" font-size="14.4" font-weight="bold" text-anchor="middle" fill="#111" transform="translate(53.00 495.70) rotate(-90)">count at 0 hour</text>
<line x1="91.60" y1="454.00" x2="91.60" y2="537.50" stroke="#1a1a1a" stroke-width="1.1"/>
<line x1="86.40" y1="454.00" x2="91.60" y2="454.00" stroke="#1a1a1a" stroke-width="1.1"/>
<text x="84.60" y="457.80" font-size="14.0" text-anchor="end" fill="#111">100</text>
<line x1="86.40" y1="495.40" x2="91.60" y2="495.40" stroke="#1a1a1a" stroke-width="1.1"/>
<text x="82.60" y="501.30" font-size="14.0" text-anchor="end" fill="#111">50</text>
<line x1="86.40" y1="537.20" x2="91.60" y2="537.20" stroke="#1a1a1a" stroke-width="1.1"/>
<text x="81.90" y="542.30" font-size="14.0" text-anchor="end" fill="#111">0</text>
<line x1="86.40" y1="537.20" x2="330.00" y2="537.20" stroke="#1a1a1a" stroke-width="1.1"/>
<line x1="91.40" y1="537.40" x2="91.40" y2="541.40" stroke="#1a1a1a" stroke-width="1.2"/>
<line x1="100.35" y1="537.40" x2="100.35" y2="541.40" stroke="#1a1a1a" stroke-width="1.2"/>
<line x1="109.30" y1="537.40" x2="109.30" y2="541.40" stroke="#1a1a1a" stroke-width="1.2"/>
<line x1="118.25" y1="537.40" x2="118.25" y2="541.40" stroke="#1a1a1a" stroke-width="1.2"/>
<line x1="127.20" y1="537.40" x2="127.20" y2="541.40" stroke="#1a1a1a" stroke-width="1.2"/>
<line x1="145.10" y1="537.40" x2="145.10" y2="541.40" stroke="#1a1a1a" stroke-width="1.2"/>
<line x1="163.00" y1="537.40" x2="163.00" y2="541.40" stroke="#1a1a1a" stroke-width="1.2"/>
<text x="90.60" y="554.60" font-size="14.0" text-anchor="middle" fill="#111">0</text>
<text x="108.50" y="554.60" font-size="14.0" text-anchor="middle" fill="#111">1</text>
<text x="126.20" y="554.60" font-size="14.0" text-anchor="middle" fill="#111">2</text>
<text x="145.00" y="554.60" font-size="14.0" text-anchor="middle" fill="#111">3</text>
<text x="161.70" y="554.60" font-size="14.0" text-anchor="middle" fill="#111">4</text>
<text x="189.80" y="554.60" font-size="14.0" text-anchor="middle" fill="#111">5.5</text>
<text x="252.60" y="554.60" font-size="14.0" text-anchor="middle" fill="#111">9</text>
<text x="322.60" y="554.60" font-size="14.0" text-anchor="middle" fill="#111">24</text>
<polyline points="91.40,453.80 100.35,460.60 109.30,469.30 118.25,474.40 127.20,479.80 145.10,486.90 163.00,496.20 189.85,503.80 252.50,524.60" fill="none" stroke="#111" stroke-width="1.2"/>
<polyline points="252.50,524.60 325.30,535.10" fill="none" stroke="#555" stroke-width="1.0"/>
<polyline points="91.40,453.80 100.35,463.50 109.30,481.20 118.25,486.50 127.20,488.60 145.10,501.20 163.00,503.00 189.85,512.70 252.50,532.70" fill="none" stroke="#111" stroke-width="1.2"/>
<polyline points="252.50,532.70 325.30,535.60" fill="none" stroke="#555" stroke-width="1.0"/>
<polyline points="91.40,453.80 100.35,466.00 109.30,491.50 118.25,499.20 127.20,508.50 145.10,519.00 163.00,529.80 189.85,536.00 252.50,536.30" fill="none" stroke="#111" stroke-width="1.2"/>
<polyline points="252.50,536.30 325.30,536.00" fill="none" stroke="#555" stroke-width="1.0"/>
<polyline points="91.40,453.80 100.35,469.50 109.30,495.50 118.25,515.80 127.20,519.60 145.10,527.30 163.00,535.00 189.85,536.50 252.50,536.30" fill="none" stroke="#111" stroke-width="1.2"/>
<polyline points="252.50,536.30 325.30,536.30" fill="none" stroke="#555" stroke-width="1.0"/>
<polygon points="87.20,450.80 95.60,450.80 91.40,457.80" fill="#000"/>
<polygon points="96.15,463.00 104.55,463.00 100.35,470.00" fill="#000"/>
<polygon points="105.10,488.50 113.50,488.50 109.30,495.50" fill="#000"/>
<polygon points="114.05,496.20 122.45,496.20 118.25,503.20" fill="#000"/>
<polygon points="123.00,505.50 131.40,505.50 127.20,512.50" fill="#000"/>
<polygon points="140.90,516.00 149.30,516.00 145.10,523.00" fill="#000"/>
<polygon points="158.80,526.80 167.20,526.80 163.00,533.80" fill="#000"/>
<polygon points="185.65,533.00 194.05,533.00 189.85,540.00" fill="#000"/>
<polygon points="248.30,533.30 256.70,533.30 252.50,540.30" fill="#000"/>
<polygon points="321.10,533.00 329.50,533.00 325.30,540.00" fill="#000"/>
<polygon points="87.20,456.80 95.60,456.80 91.40,449.80" fill="#000"/>
<polygon points="96.15,466.50 104.55,466.50 100.35,459.50" fill="#000"/>
<polygon points="105.10,484.20 113.50,484.20 109.30,477.20" fill="#000"/>
<polygon points="114.05,489.50 122.45,489.50 118.25,482.50" fill="#000"/>
<polygon points="123.00,491.60 131.40,491.60 127.20,484.60" fill="#000"/>
<polygon points="140.90,504.20 149.30,504.20 145.10,497.20" fill="#000"/>
<polygon points="158.80,506.00 167.20,506.00 163.00,499.00" fill="#000"/>
<polygon points="185.65,515.70 194.05,515.70 189.85,508.70" fill="#000"/>
<polygon points="248.30,535.70 256.70,535.70 252.50,528.70" fill="#000"/>
<polygon points="321.10,538.60 329.50,538.60 325.30,531.60" fill="#000"/>
<ellipse cx="91.40" cy="453.80" rx="3.70" ry="3.20" fill="#000"/>
<ellipse cx="100.35" cy="469.50" rx="3.70" ry="3.20" fill="#000"/>
<ellipse cx="109.30" cy="495.50" rx="3.70" ry="3.20" fill="#000"/>
<ellipse cx="118.25" cy="515.80" rx="3.70" ry="3.20" fill="#000"/>
<ellipse cx="127.20" cy="519.60" rx="3.70" ry="3.20" fill="#000"/>
<ellipse cx="145.10" cy="527.30" rx="3.70" ry="3.20" fill="#000"/>
<ellipse cx="163.00" cy="535.00" rx="3.70" ry="3.20" fill="#000"/>
<ellipse cx="189.85" cy="536.50" rx="3.70" ry="3.20" fill="#000"/>
<ellipse cx="252.50" cy="536.30" rx="3.70" ry="3.20" fill="#000"/>
<ellipse cx="325.30" cy="536.30" rx="3.70" ry="3.20" fill="#000"/>
<rect x="87.80" y="450.70" width="7.20" height="6.20" fill="#000"/>
<rect x="96.75" y="457.50" width="7.20" height="6.20" fill="#000"/>
<rect x="105.70" y="466.20" width="7.20" height="6.20" fill="#000"/>
<rect x="114.65" y="471.30" width="7.20" height="6.20" fill="#000"/>
<rect x="123.60" y="476.70" width="7.20" height="6.20" fill="#000"/>
<rect x="141.50" y="483.80" width="7.20" height="6.20" fill="#000"/>
<rect x="159.40" y="493.10" width="7.20" height="6.20" fill="#000"/>
<rect x="186.25" y="500.70" width="7.20" height="6.20" fill="#000"/>
<rect x="248.90" y="521.50" width="7.20" height="6.20" fill="#000"/>
<rect x="321.70" y="532.00" width="7.20" height="6.20" fill="#000"/>
<line x1="284.25" y1="523.70" x2="288.55" y2="542.10" stroke="#1a1a1a" stroke-width="1.2"/>
<line x1="286.85" y1="523.70" x2="291.15" y2="542.10" stroke="#1a1a1a" stroke-width="1.2"/>
<text x="217.20" y="450.10" font-size="11.7" text-anchor="start" fill="#111">QITP sera + Q + :</text>
<line x1="216.90" y1="458.70" x2="230.80" y2="458.70" stroke="#1a1a1a" stroke-width="1.2"/>
<rect x="221.22" y="456.22" width="5.76" height="4.96" fill="#000"/>
<text x="234.60" y="462.30" font-size="11.7" text-anchor="start" fill="#111">IVIG 1g/kg</text>
<line x1="216.90" y1="470.70" x2="230.80" y2="470.70" stroke="#777" stroke-width="1.2"/>
<polygon points="220.74,473.00 227.46,473.00 224.10,467.40" fill="#000"/>
<text x="234.60" y="474.80" font-size="11.7" text-anchor="start" fill="#111">IVIG 0.5g/kg</text>
<line x1="216.90" y1="485.10" x2="230.80" y2="485.10" stroke="#777" stroke-width="1.2"/>
<polygon points="220.74,482.80 227.46,482.80 224.10,488.40" fill="#000"/>
<text x="234.60" y="488.50" font-size="11.7" text-anchor="start" fill="#111">IVIG 0.25g/kg</text>
<line x1="216.90" y1="496.60" x2="230.80" y2="496.60" stroke="#1a1a1a" stroke-width="1.2"/>
<ellipse cx="224.10" cy="496.60" rx="2.96" ry="2.56" fill="#000"/>
<text x="234.60" y="500.50" font-size="11.7" text-anchor="start" fill="#111">IVIG 0g/kg</text>
<text x="158.60" y="576.30" font-size="14.0" font-weight="bold" text-anchor="start" fill="#111">Time (Hours)</text>
<text x="369.00" y="433.10" font-size="25.3" font-weight="bold" text-anchor="start" fill="#111">F</text>
<text x="0.00" y="0.00" font-size="13.8" font-weight="bold" text-anchor="middle" fill="#111" transform="translate(388.50 487.70) rotate(-90)">Hours</text>
<line x1="423.10" y1="450.60" x2="423.10" y2="527.50" stroke="#555" stroke-width="1.0"/>
<line x1="420.90" y1="527.40" x2="423.10" y2="527.40" stroke="#888" stroke-width="1.0"/>
<line x1="420.90" y1="514.62" x2="423.10" y2="514.62" stroke="#888" stroke-width="1.0"/>
<line x1="420.90" y1="501.84" x2="423.10" y2="501.84" stroke="#888" stroke-width="1.0"/>
<line x1="420.90" y1="489.06" x2="423.10" y2="489.06" stroke="#888" stroke-width="1.0"/>
<line x1="420.90" y1="476.28" x2="423.10" y2="476.28" stroke="#888" stroke-width="1.0"/>
<line x1="420.90" y1="463.50" x2="423.10" y2="463.50" stroke="#888" stroke-width="1.0"/>
<line x1="420.90" y1="450.72" x2="423.10" y2="450.72" stroke="#888" stroke-width="1.0"/>
<text x="420.00" y="455.40" font-size="14.0" text-anchor="end" fill="#111">6</text>
<text x="420.00" y="480.20" font-size="14.0" text-anchor="end" fill="#111">4</text>
<text x="420.00" y="506.00" font-size="14.0" text-anchor="end" fill="#111">2</text>
<text x="420.00" y="531.60" font-size="14.0" text-anchor="end" fill="#111">0</text>
<line x1="423.10" y1="527.40" x2="516.00" y2="527.40" stroke="#1a1a1a" stroke-width="1.2"/>
<rect x="428.60" y="508.90" width="13.00" height="18.50" fill="#000"/>
<rect x="452.30" y="502.50" width="13.30" height="24.90" fill="#000"/>
<rect x="476.20" y="463.50" width="12.20" height="63.90" fill="#000"/>
<rect x="498.60" y="453.50" width="13.10" height="73.90" fill="#000"/>
<line x1="515.60" y1="527.40" x2="515.60" y2="530.00" stroke="#555" stroke-width="1.0"/>
<text x="0.00" y="0.00" font-size="11.8" font-weight="bold" text-anchor="start" fill="#111" transform="translate(416.50 553.60) rotate(-40)">0g/kg</text>
<text x="0.00" y="0.00" font-size="11.8" font-weight="bold" text-anchor="start" fill="#111" transform="translate(428.40 565.00) rotate(-40)">0.25g/kg</text>
<text x="0.00" y="0.00" font-size="11.8" font-weight="bold" text-anchor="start" fill="#111" transform="translate(457.60 561.70) rotate(-40)">0.5g/kg</text>
<text x="0.00" y="0.00" font-size="11.8" font-weight="bold" text-anchor="start" fill="#111" transform="translate(489.90 553.60) rotate(-40)">1g/kg</text>
<text x="469.70" y="576.80" font-size="12.8" font-weight="bold" text-anchor="middle" fill="#111">IVIG</text>
</svg>
</body></html>
